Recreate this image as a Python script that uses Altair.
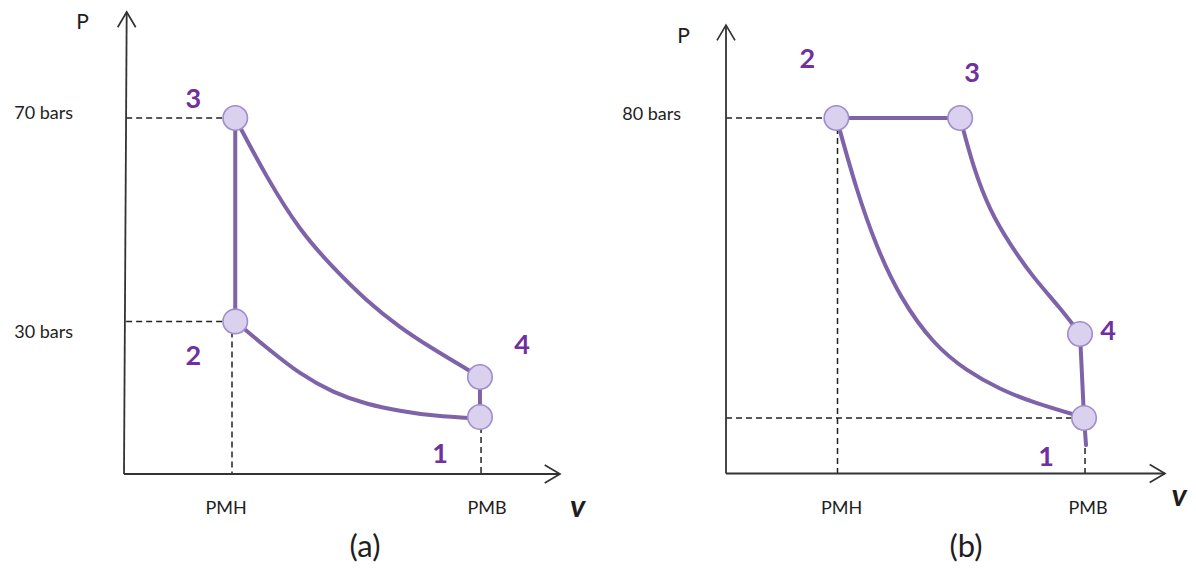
import altair as alt
import pandas as pd

# ======================= DATA =======================
# ---- Panel (a): Otto cycle (V in arbitrary volume units, P in bars) ----
A_POINT_NAMES = ["1", "2", "3", "4"]
A_POINT_V = [3.296, 1.03, 1.03, 3.296]
A_POINT_P = [11.2, 30.0, 70.0, 19.07]

A_EXPANSION_V = [1.03, 1.321, 1.630, 1.935, 2.247, 2.556, 2.861, 3.173, 3.296]
A_EXPANSION_P = [70.0, 58.26, 47.78, 40.56, 34.01, 28.77, 24.58, 20.64, 19.07]
A_COMPRESSION_V = [1.03, 1.321, 1.630, 1.938, 2.247, 2.556, 2.861, 3.296]
A_COMPRESSION_P = [30.0, 24.83, 19.60, 15.99, 13.70, 12.39, 11.40, 10.9]
A_ISOCHORE_V = [[1.03, 1.03], [3.296, 3.296]]
A_ISOCHORE_P = [[70.0, 30.0], [19.07, 11.2]]

A_PRESSURE_TICKS = [70, 30]
A_PRESSURE_LABELS = ["70 bars", "30 bars"]
A_VOLUME_TICKS = [1.0, 3.306]
A_VOLUME_LABELS = ["PMH", "PMB"]
A_GUIDE_V1 = [0.02, 0.02, 1.0, 3.306]
A_GUIDE_V2 = [1.03, 1.03, 1.0, 3.306]
A_GUIDE_P1 = [70.0, 30.0, 30.0, 11.2]
A_GUIDE_P2 = [70.0, 30.0, 0.0, 0.0]
A_AXIS_END_V = [0.025, 4.037]
A_AXIS_END_P = [90.84, 0.0]

# ---- Panel (b): Diesel cycle ----
B_POINT_NAMES = ["1", "2", "3", "4"]
B_POINT_V = [3.211, 0.99, 2.10, 3.175]
B_POINT_P = [12.5, 80.0, 80.0, 31.4]

B_COMPRESSION_V = [0.99, 1.172, 1.352, 1.561, 1.859, 2.159, 2.457, 2.756, 3.211]
B_COMPRESSION_P = [80.0, 63.57, 50.81, 39.56, 29.07, 23.06, 18.95, 15.93, 12.6]
B_EXPANSION_V = [2.10, 2.218, 2.368, 2.547, 2.756, 2.996, 3.175]
B_EXPANSION_P = [80.0, 68.81, 59.07, 51.57, 44.06, 37.31, 31.4]
B_ISOCHORE_V = [[0.99, 2.10], [3.175, 3.211, 3.229]]
B_ISOCHORE_P = [[80.0, 80.0], [31.4, 12.5, 6.4]]

B_PRESSURE_TICKS = [80]
B_PRESSURE_LABELS = ["80 bars"]
B_VOLUME_TICKS = [1.0, 3.22]
B_VOLUME_LABELS = ["PMH", "PMB"]
B_GUIDE_V1 = [0.0, 1.0, 0.0, 3.22]
B_GUIDE_V2 = [0.99, 1.0, 3.211, 3.22]
B_GUIDE_P1 = [80.0, 80.0, 12.5, 12.5]
B_GUIDE_P2 = [80.0, 0.0, 12.5, 0.0]
B_AXIS_END_V = [0.0, 3.937]
B_AXIS_END_P = [100.9, 0.0]

# ======================= STYLE / LAYOUT =======================
W, H = 590, 555
LINE = "#7F63A8"
MARK_FILL = "#DAD1EF"
MARK_STROKE = "#A08DCB"
NUM_COLOR = "#7030A0"
AXIS_COLOR = "#333333"
DASH_COLOR = "#222222"
TEXT_COLOR = "#1E1E1E"
FONT = "Lato"
ARROW = "M-1,1.7L0,0L1,1.7"

PANELS = [
    dict(
        ox=8, oy=8, v0_px=124, p0_px=473, kx=108.0, ky=5.086,
        names=A_POINT_NAMES, pv=A_POINT_V, pp=A_POINT_P,
        curves=[(A_EXPANSION_V, A_EXPANSION_P), (A_COMPRESSION_V, A_COMPRESSION_P)],
        straight=list(zip(A_ISOCHORE_V, A_ISOCHORE_P)),
        pticks=A_PRESSURE_TICKS, plabels=A_PRESSURE_LABELS, plabel_dy=[1, 17], plabel_right=73,
        vticks=A_VOLUME_TICKS, vlabels=A_VOLUME_LABELS, vlabel_dx=[-6, 6], vlabel_base=513,
        guides=(A_GUIDE_V1, A_GUIDE_V2, A_GUIDE_P1, A_GUIDE_P2),
        axis_end=(A_AXIS_END_V, A_AXIS_END_P),
        num_off={"1": (-40, 46), "2": (-42, 44), "3": (-42, -10), "4": (42, -23)},
        p_pos=(82.5, 28), v_pos=(577.5, 516), cap="(a)", cap_pos=(365, 547),
    ),
    dict(
        ox=598, oy=8, v0_px=726, p0_px=472.5, kx=111.5, ky=4.444,
        names=B_POINT_NAMES, pv=B_POINT_V, pp=B_POINT_P,
        curves=[(B_EXPANSION_V, B_EXPANSION_P), (B_COMPRESSION_V, B_COMPRESSION_P)],
        straight=list(zip(B_ISOCHORE_V, B_ISOCHORE_P)),
        pticks=B_PRESSURE_TICKS, plabels=B_PRESSURE_LABELS, plabel_dy=[2], plabel_right=681,
        vticks=B_VOLUME_TICKS, vlabels=B_VOLUME_LABELS, vlabel_dx=[4, 3], vlabel_base=513,
        guides=(B_GUIDE_V1, B_GUIDE_V2, B_GUIDE_P1, B_GUIDE_P2),
        axis_end=(B_AXIS_END_V, B_AXIS_END_P),
        num_off={"1": (-38, 48), "2": (-29, -50), "3": (12, -36), "4": (28, 6)},
        p_pos=(683.5, 42), v_pos=(1179, 505), cap="(b)", cap_pos=(966, 547),
    ),
]


def make_panel(s):
    x0 = s["v0_px"] - s["ox"]
    y0 = s["p0_px"] - s["oy"]
    kx, ky = s["kx"], s["ky"]
    xs = alt.Scale(domain=[-x0 / kx, (W - x0) / kx], nice=False, zero=False)
    ys = alt.Scale(domain=[(y0 - H) / ky, y0 / ky], nice=False, zero=False)

    def X(f):
        return alt.X(f, type="quantitative", scale=xs, axis=None)

    def Y(f):
        return alt.Y(f, type="quantitative", scale=ys, axis=None)

    lx = lambda px: px - s["ox"]
    ly = lambda py: py - s["oy"]
    layers = []

    # dashed guides
    g1, g2, g3, g4 = s["guides"]
    gdf = pd.DataFrame({"V1": g1, "V2": g2, "P1": g3, "P2": g4})
    layers.append(
        alt.Chart(gdf).mark_rule(color=DASH_COLOR, strokeWidth=1.5, strokeDash=[6, 4])
        .encode(x=X("V1"), x2="V2", y=Y("P1"), y2="P2")
    )

    # axes
    ev, ep = s["axis_end"]
    adf = pd.DataFrame({"V1": [0.0, 0.0], "P1": [0.0, 0.0], "V2": ev, "P2": ep})
    layers.append(
        alt.Chart(adf).mark_rule(color=AXIS_COLOR, strokeWidth=1.8)
        .encode(x=X("V1"), x2="V2", y=Y("P1"), y2="P2")
    )
    for i, ang in enumerate([0, 90]):
        layers.append(
            alt.Chart(pd.DataFrame({"V": [ev[i]], "P": [ep[i]]}))
            .mark_point(shape=ARROW, size=324, filled=False, color=AXIS_COLOR,
                        strokeWidth=1.7, angle=ang, opacity=1)
            .encode(x=X("V"), y=Y("P"))
        )

    # cycle curves
    rows = []
    for si, (vv, pp) in enumerate(s["curves"]):
        for i, (v, p) in enumerate(zip(vv, pp)):
            rows.append({"seg": si, "i": i, "V": v, "P": p})
    layers.append(
        alt.Chart(pd.DataFrame(rows))
        .mark_line(interpolate="basis", color=LINE, strokeWidth=4, strokeCap="round")
        .encode(x=X("V"), y=Y("P"), detail="seg:N", order="i:Q")
    )
    rows = []
    for si, (vv, pp) in enumerate(s["straight"]):
        for i, (v, p) in enumerate(zip(vv, pp)):
            rows.append({"seg": si, "i": i, "V": v, "P": p})
    layers.append(
        alt.Chart(pd.DataFrame(rows))
        .mark_line(color=LINE, strokeWidth=4, strokeCap="round")
        .encode(x=X("V"), y=Y("P"), detail="seg:N", order="i:Q")
    )

    # state points
    pdf = pd.DataFrame({"name": s["names"], "V": s["pv"], "P": s["pp"]})
    layers.append(
        alt.Chart(pdf).mark_circle(size=600, fill=MARK_FILL, stroke=MARK_STROKE,
                                   strokeWidth=1.6, opacity=1)
        .encode(x=X("V"), y=Y("P"))
    )
    for name, v, p in zip(s["names"], s["pv"], s["pp"]):
        dx, dy = s["num_off"][name]
        layers.append(
            alt.Chart(pd.DataFrame({"name": [name], "V": [v], "P": [p]}))
            .mark_text(font=FONT, fontSize=27, fontWeight="bold", color=NUM_COLOR,
                       align="center", baseline="alphabetic", dx=dx, dy=dy)
            .encode(x=X("V"), y=Y("P"), text="name:N")
        )

    # pressure labels
    for t, lab, dy in zip(s["pticks"], s["plabels"], s["plabel_dy"]):
        layers.append(
            alt.Chart(pd.DataFrame({"P": [t], "t": [lab]}))
            .mark_text(font=FONT, fontSize=18, color=TEXT_COLOR, align="right",
                       baseline="alphabetic", dy=dy)
            .encode(x=alt.value(lx(s["plabel_right"])), y=Y("P"), text="t:N")
        )
    # volume labels
    for t, lab, dx in zip(s["vticks"], s["vlabels"], s["vlabel_dx"]):
        layers.append(
            alt.Chart(pd.DataFrame({"V": [t], "t": [lab]}))
            .mark_text(font=FONT, fontSize=18, color=TEXT_COLOR, align="center",
                       baseline="alphabetic", dx=dx)
            .encode(x=X("V"), y=alt.value(ly(s["vlabel_base"])), text="t:N")
        )

    # axis names and caption
    layers.append(
        alt.Chart(pd.DataFrame({"t": ["P"]}))
        .mark_text(font=FONT, fontSize=21, color=TEXT_COLOR, align="center", baseline="alphabetic")
        .encode(x=alt.value(lx(s["p_pos"][0])), y=alt.value(ly(s["p_pos"][1])), text="t:N")
    )
    layers.append(
        alt.Chart(pd.DataFrame({"t": ["v"]}))
        .mark_text(font=FONT, fontSize=31, fontWeight="bold", fontStyle="italic",
                   color=TEXT_COLOR, align="center", baseline="alphabetic")
        .encode(x=alt.value(lx(s["v_pos"][0])), y=alt.value(ly(s["v_pos"][1])), text="t:N")
    )
    layers.append(
        alt.Chart(pd.DataFrame({"t": [s["cap"]]}))
        .mark_text(font=FONT, fontSize=31, color=TEXT_COLOR, align="center", baseline="middle")
        .encode(x=alt.value(lx(s["cap_pos"][0])), y=alt.value(ly(s["cap_pos"][1])), text="t:N")
    )

    return alt.layer(*layers).properties(width=W, height=H)


chart = (
    alt.hconcat(*[make_panel(p) for p in PANELS], spacing=0)
    .properties(padding=0, background="white")
    .configure_view(stroke=None)
)

chart.save("out.html", embed_options={"renderer": "svg", "actions": False})
